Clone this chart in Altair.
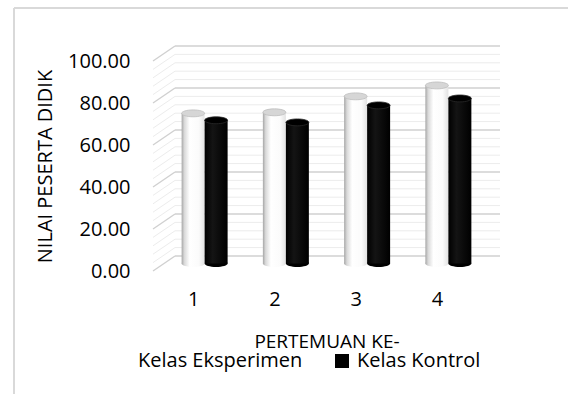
import altair as alt
import pandas as pd

# ---- data ----
pertemuan = ["1", "2", "3", "4"]
kelas_order = ["Kelas Eksperimen", "Kelas Kontrol"]
eksperimen = [71.5, 72.0, 79.6, 84.8]
kontrol = [68.2, 67.2, 75.3, 78.6]
grid_major = [0, 20, 40, 60, 80, 100]
grid_minor = [4, 8, 12, 16, 24, 28, 32, 36, 44, 48, 52, 56, 64, 68, 72, 76, 84, 88, 92, 96]

df = pd.DataFrame({
    "pertemuan": pertemuan * 2,
    "kelas": [kelas_order[0]] * 4 + [kelas_order[1]] * 4,
    "nilai": eksperimen + kontrol,
})
df_major = pd.DataFrame({"v": grid_major})
df_minor = pd.DataFrame({"v": grid_minor})

FONT = "Open Sans"
W, H = 325, 210
DX, DY = 22, 15  # 3-D depth offsets

x_enc = alt.X(
    "pertemuan:N",
    sort=pertemuan,
    scale=alt.Scale(range=[DX / 2, W + DX / 2], paddingInner=0.434, paddingOuter=0.217),
    axis=alt.Axis(
        labelAngle=0, labelOffset=-DX / 2, labelPadding=18, ticks=False, tickSize=0,
        domain=False, grid=False, labelFontSize=20, labelColor="#000000",
        titleFontSize=19, titleFontWeight="normal", titleColor="#000000",
        titleY=70, titleBaseline="middle",
    ),
    title="PERTEMUAN KE-",
)
xo_enc = alt.XOffset(
    "kelas:N",
    scale=alt.Scale(domain=kelas_order, paddingInner=0, paddingOuter=0),
)
y_axis = alt.Axis(
    format=".2f", values=grid_major, ticks=False, tickSize=0, domain=False, grid=False,
    labelPadding=23, labelFontSize=20, labelColor="#000000",
    titleFontSize=20, titleFontWeight="normal", titleColor="#000000",
    titleX=-108, titleY=H / 2, titleAngle=270, titleAlign="center", titleBaseline="middle",
)
y_scale = alt.Scale(domain=[0, 100], nice=False, zero=True)


def yenc(field):
    return alt.Y(field, scale=y_scale, axis=y_axis, title="NILAI PESERTA DIDIK")


grad_white = alt.Gradient(
    gradient="linear", x1=0, x2=1, y1=0, y2=0,
    stops=[
        alt.GradientStop(color="#a6a6a6", offset=0),
        alt.GradientStop(color="#d9d9d9", offset=0.12),
        alt.GradientStop(color="#ffffff", offset=0.35),
        alt.GradientStop(color="#fbfbfb", offset=0.75),
        alt.GradientStop(color="#e2e2e2", offset=1),
    ],
)
grad_black = alt.Gradient(
    gradient="linear", x1=0, x2=1, y1=0, y2=0,
    stops=[
        alt.GradientStop(color="#000000", offset=0),
        alt.GradientStop(color="#141414", offset=0.35),
        alt.GradientStop(color="#000000", offset=1),
    ],
)
ELLIPSE = "M -1 0 A 1 0.3 0 1 0 1 0 A 1 0.3 0 1 0 -1 0 Z"

# ---- frame ----
frame_top = alt.Chart(df_major).mark_rule(color="#d9d9d9", strokeWidth=1.5).encode(
    x=alt.value(14 - 153), x2=alt.value(700), y=alt.value(8 - 61)
)
frame_left = alt.Chart(df_major).mark_rule(color="#d9d9d9", strokeWidth=1.5).encode(
    x=alt.value(14 - 153), y=alt.value(8 - 61), y2=alt.value(500)
)

# ---- walls ----
back_minor = alt.Chart(df_minor).mark_rule(color="#ececec", strokeWidth=1, yOffset=-DY).encode(
    y=yenc("v:Q"), x=alt.value(DX), x2=alt.value(W + DX)
)
back_major = alt.Chart(df_major).mark_rule(color="#d0d0d0", strokeWidth=1.4, yOffset=-DY).encode(
    y=yenc("v:Q"), x=alt.value(DX), x2=alt.value(W + DX)
)
side_minor = alt.Chart(df_minor).mark_rule(color="#ececec", strokeWidth=1, y2Offset=-DY).encode(
    y=yenc("v:Q"), y2="v:Q", x=alt.value(0), x2=alt.value(DX)
)
side_major = alt.Chart(df_major).mark_rule(color="#d0d0d0", strokeWidth=1.4, y2Offset=-DY).encode(
    y=yenc("v:Q"), y2="v:Q", x=alt.value(0), x2=alt.value(DX)
)

base = alt.Chart(df)
white = base.transform_filter(alt.datum.kelas == kelas_order[0])
black = base.transform_filter(alt.datum.kelas == kelas_order[1])

# ---- cylinders ----
bottom_w = white.mark_point(shape=ELLIPSE, size=529, filled=True, fill=grad_white, opacity=1,
                            strokeWidth=0, yOffset=-DY / 2).encode(
    x=x_enc, xOffset=xo_enc, y=alt.datum(0)
)
bottom_b = black.mark_point(shape=ELLIPSE, size=529, filled=True, fill="#000000", opacity=1,
                            strokeWidth=0, yOffset=-DY / 2).encode(
    x=x_enc, xOffset=xo_enc, y=alt.datum(0)
)
bars_w = white.mark_bar(color=grad_white, yOffset=-DY / 2, y2Offset=-DY / 2).encode(
    x=x_enc, xOffset=xo_enc, y=yenc("nilai:Q")
)
bars_b = black.mark_bar(color=grad_black, yOffset=-DY / 2, y2Offset=-DY / 2).encode(
    x=x_enc, xOffset=xo_enc, y=yenc("nilai:Q")
)
top_w = white.mark_point(shape=ELLIPSE, size=529, filled=True, fill="#d6d6d6", stroke="#bdbdbd",
                         strokeWidth=0.8, opacity=1, yOffset=-DY / 2).encode(
    x=x_enc, xOffset=xo_enc, y=yenc("nilai:Q")
)
top_b = black.mark_point(shape=ELLIPSE, size=529, filled=True, fill="#000000", stroke="#2a2a2a",
                         strokeWidth=0.8, opacity=1, yOffset=-DY / 2).encode(
    x=x_enc, xOffset=xo_enc, y=yenc("nilai:Q")
)

# ---- legend carrier ----
legend_layer = base.mark_square(opacity=0).encode(
    color=alt.Color(
        "kelas:N",
        scale=alt.Scale(domain=kelas_order, range=["#ffffff", "#000000"]),
        legend=alt.Legend(
            title=None, orient="none", legendX=-40, legendY=290, direction="horizontal",
            symbolType="square", symbolSize=196, symbolOpacity=1, symbolStrokeWidth=0,
            labelFontSize=20, labelColor="#000000", labelOffset=5, columnPadding=29,
            labelLimit=400,
        ),
    )
)

chart = alt.layer(
    frame_top, frame_left,
    back_minor, back_major, side_minor, side_major,
    bottom_w, bottom_b, bars_w, bars_b, top_w, top_b,
    legend_layer,
).properties(
    width=W, height=H,
    autosize=alt.AutoSizeParams(type="none"),
    padding={"left": 153, "top": 61, "right": 568 - 153 - W, "bottom": 394 - 61 - H},
).configure(
    font=FONT,
).configure_view(
    stroke=None,
)

chart.save("out.html", embed_options={"renderer": "svg", "actions": False})
